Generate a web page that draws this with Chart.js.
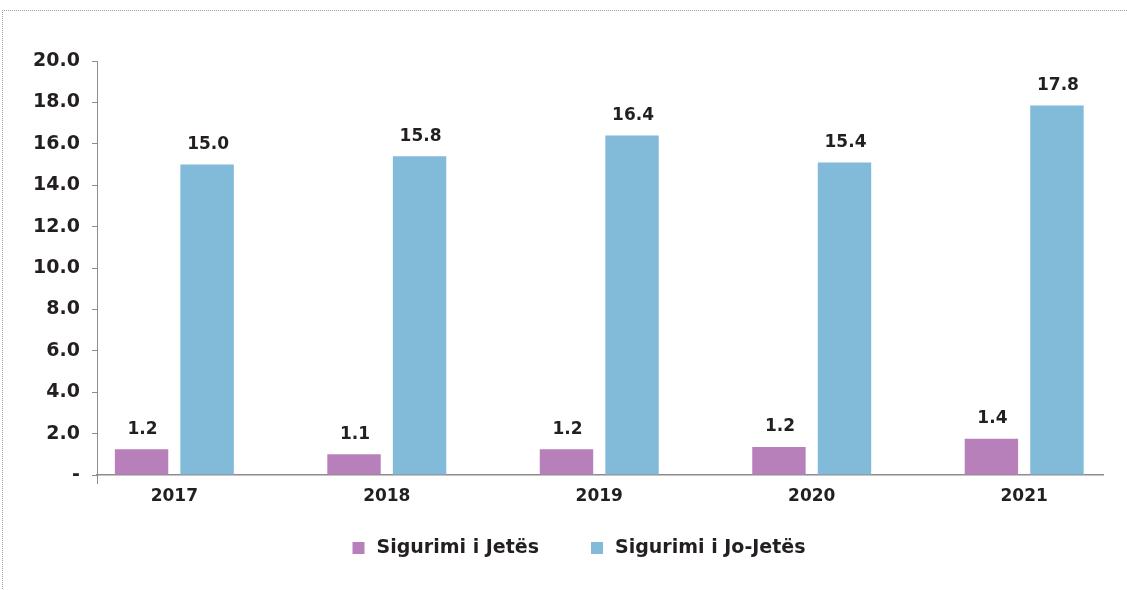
<!DOCTYPE html>
<html>
<head>
<meta charset="utf-8">
<script src="https://cdn.jsdelivr.net/npm/chart.js@4"></script>
<style>
  html, body { margin: 0; padding: 0; background: #fff; }
  #wrap { position: relative; width: 1127px; height: 590px; overflow: hidden; }
  #frame { position: absolute; left: 2px; top: 10px; width: 1130px; height: 590px;
           border-top: 1px dotted #a0a0a0; border-left: 1px dotted #a0a0a0; }
  canvas { position: absolute; left: 0; top: 0; }
</style>
</head>
<body>
<div id="wrap">
  <div id="frame"></div>
  <canvas id="c" width="1127" height="590"></canvas>
</div>
<script>
// ---- data ----
const categories = ['2017', '2018', '2019', '2020', '2021'];
const seriesNames = ['Sigurimi i Jetës', 'Sigurimi i Jo-Jetës'];
const lifeValues = [1.25, 1.0, 1.25, 1.35, 1.75];
const nonLifeValues = [15.0, 15.4, 16.4, 15.1, 17.85];
const lifeLabels = ['1.2', '1.1', '1.2', '1.2', '1.4'];
const nonLifeLabels = ['15.0', '15.8', '16.4', '15.4', '17.8'];
const yTicks = [0, 2, 4, 6, 8, 10, 12, 14, 16, 18, 20];

const FONT = "'DejaVu Sans', sans-serif";
const TEXT = '#231F20';
const AXIS = '#8c8c8c';

const toPoints = vals => vals.map((v, i) => ({ x: i, y: v }));

const valueLabels = {
  id: 'valueLabels',
  afterDatasetsDraw(chart) {
    const ctx = chart.ctx;
    const lbls = [lifeLabels, nonLifeLabels];
    ctx.save();
    ctx.font = 'bold 17px ' + FONT;
    ctx.fillStyle = TEXT;
    ctx.textAlign = 'center';
    ctx.textBaseline = 'middle';
    chart.data.datasets.forEach((ds, i) => {
      const meta = chart.getDatasetMeta(i);
      meta.data.forEach((bar, j) => {
        ctx.fillText(lbls[i][j], bar.x + 1, bar.y - 20);
      });
    });
    ctx.restore();
  }
};

const customLegend = {
  id: 'customLegend',
  afterDraw(chart) {
    const ctx = chart.ctx;
    ctx.save();
    ctx.font = 'bold 19px ' + FONT;
    ctx.textBaseline = 'middle';
    ctx.textAlign = 'left';
    const box = 12, gapText = 12, gapItem = 52;
    const items = chart.data.datasets.map(ds => ({
      text: ds.label, color: ds.backgroundColor,
      w: box + gapText + ctx.measureText(ds.label).width
    }));
    const total = items.reduce((s, it) => s + it.w, 0) + gapItem * (items.length - 1);
    let x = 579 - total / 2;
    const y = 548;
    items.forEach(it => {
      ctx.fillStyle = it.color;
      ctx.fillRect(x, y - 6, box, box);
      ctx.fillStyle = TEXT;
      ctx.fillText(it.text, x + box + gapText, y);
      x += it.w + gapItem;
    });
    // small extension of the value axis below the category axis
    const xs = chart.scales.x, ys = chart.scales.y;
    ctx.strokeStyle = AXIS;
    ctx.lineWidth = 1;
    ctx.beginPath();
    ctx.moveTo(xs.left + 0.5, ys.bottom);
    ctx.lineTo(xs.left + 0.5, ys.bottom + 9);
    ctx.stroke();
    ctx.restore();
  }
};

new Chart(document.getElementById('c'), {
  type: 'bar',
  data: {
    datasets: [
      { label: seriesNames[0], data: toPoints(lifeValues), backgroundColor: '#B880BA',
        categoryPercentage: 0.617, barPercentage: 0.815 },
      { label: seriesNames[1], data: toPoints(nonLifeValues), backgroundColor: '#82BAD9',
        categoryPercentage: 0.617, barPercentage: 0.815 }
    ]
  },
  options: {
    responsive: false,
    animation: false,
    devicePixelRatio: 1,
    layout: { padding: { left: 0, right: 24, top: 61, bottom: 0 } },
    plugins: { legend: { display: false }, tooltip: { enabled: false } },
    scales: {
      x: {
        type: 'linear',
        min: -0.364, max: 4.371,
        offset: false,
        afterBuildTicks(s) { s.ticks = categories.map((c, i) => ({ value: i })); },
        grid: { display: false },
        border: { display: true, color: AXIS, width: 1.5 },
        ticks: {
          color: TEXT, font: { family: FONT, size: 17, weight: 'bold' }, padding: 3,
          autoSkip: false, maxRotation: 0,
          callback: v => categories[v]
        },
        afterFit(s) { s.height = 115; }
      },
      y: {
        min: 0, max: 20,
        afterBuildTicks(s) { s.ticks = yTicks.map(v => ({ value: v })); },
        grid: { drawOnChartArea: false, drawTicks: true, tickLength: 5, color: AXIS },
        border: { display: true, color: AXIS, width: 1 },
        ticks: {
          color: TEXT, padding: 12,
          font: { family: FONT, size: 19, weight: 'bold' },
          callback: v => v === 0 ? '-' : v.toFixed(1)
        },
        afterFit(s) { s.width = 97; }
      }
    }
  },
  plugins: [valueLabels, customLegend]
});
</script>
</body>
</html>
